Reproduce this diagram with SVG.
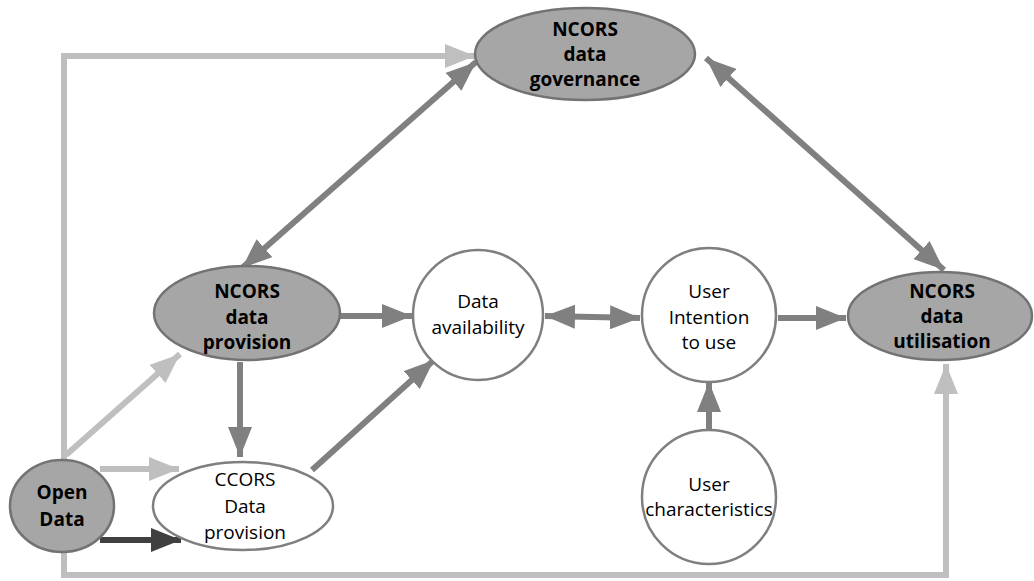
<svg xmlns="http://www.w3.org/2000/svg" width="1034" height="581" viewBox="0 0 1034 581">
<style>
.g{fill:#a6a6a6;stroke:#737373;stroke-width:2.5}
.w{fill:#fff;stroke:#7f7f7f;stroke-width:2.5}
text{font-family:"Open Sans","Liberation Sans",sans-serif;font-size:19px;fill:#000;text-anchor:middle}
.b{font-weight:bold}
.m{stroke:#808080;stroke-width:6;fill:none}
.l{stroke:#bfbfbf;stroke-width:6;fill:none}
.d{stroke:#404040;stroke-width:6;fill:none}
</style>
<defs>
<marker id="am" markerWidth="5" markerHeight="4" refX="5" refY="2" orient="auto" markerUnits="strokeWidth"><path d="M0,0L5,2L0,4z" fill="#808080"/></marker>
<marker id="ams" markerWidth="5" markerHeight="4" refX="0" refY="2" orient="auto" markerUnits="strokeWidth"><path d="M5,0L0,2L5,4z" fill="#808080"/></marker>
<marker id="al" markerWidth="5" markerHeight="4" refX="5" refY="2" orient="auto" markerUnits="strokeWidth"><path d="M0,0L5,2L0,4z" fill="#bfbfbf"/></marker>
<marker id="ad" markerWidth="5" markerHeight="4" refX="5" refY="2" orient="auto" markerUnits="strokeWidth"><path d="M0,0L5,2L0,4z" fill="#404040"/></marker>
</defs>
<g id="connectors">
<path class="l" d="M64,460V56H475" marker-end="url(#al)"/>
<path class="l" d="M64,552V575H946V364" marker-end="url(#al)"/>
<path class="l" d="M66,455L180,354" marker-end="url(#al)"/>
<path class="l" d="M100,469H179" marker-end="url(#al)"/>
<path class="d" d="M100,540H181" marker-end="url(#ad)"/>
<path class="m" d="M340,316H412" marker-end="url(#am)"/>
<path class="m" d="M240,362V457" marker-end="url(#am)"/>
<path class="m" d="M312,470L434,360" marker-end="url(#am)"/>
<path class="m" d="M545,316L640,318" marker-start="url(#ams)" marker-end="url(#am)"/>
<path class="m" d="M778,318H846" marker-end="url(#am)"/>
<path class="m" d="M709,430V382" marker-end="url(#am)"/>
<path class="m" d="M242,268L476,62" marker-start="url(#ams)" marker-end="url(#am)"/>
<path class="m" d="M706,58L944,270" marker-start="url(#ams)" marker-end="url(#am)"/>
</g>
<g id="governance"><ellipse class="g" cx="585" cy="54" rx="110" ry="46"/><text class="b" x="585" y="36">NCORS</text><text class="b" x="585" y="61">data</text><text class="b" x="585" y="86">governance</text></g>
<g id="provision"><ellipse class="g" cx="247" cy="313" rx="93" ry="47"/><text class="b" x="247" y="298">NCORS</text><text class="b" x="247" y="324">data</text><text class="b" x="247" y="349">provision</text></g>
<g id="availability"><circle class="w" cx="478" cy="315" r="65"/><text x="478" y="308">Data</text><text x="478" y="334">availability</text></g>
<g id="intention"><circle class="w" cx="709" cy="315" r="67"/><text x="709" y="298">User</text><text x="709" y="324">Intention</text><text x="709" y="349">to use</text></g>
<g id="utilisation"><ellipse class="g" cx="940" cy="316" rx="92" ry="44"/><text class="b" x="942" y="298">NCORS</text><text class="b" x="942" y="323">data</text><text class="b" x="942" y="348">utilisation</text></g>
<g id="characteristics"><circle class="w" cx="709" cy="497" r="67"/><text x="709" y="491">User</text><text x="709" y="516">characteristics</text></g>
<g id="opendata"><ellipse class="g" cx="62" cy="506" rx="52" ry="46"/><text class="b" x="62" y="499">Open</text><text class="b" x="62" y="526">Data</text></g>
<g id="ccors"><ellipse class="w" cx="243" cy="506" rx="90" ry="44"/><text x="245" y="486">CCORS</text><text x="245" y="513">Data</text><text x="245" y="539">provision</text></g>
</svg>
